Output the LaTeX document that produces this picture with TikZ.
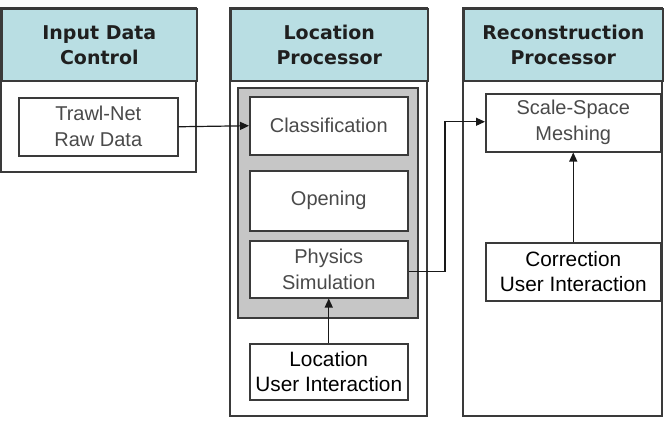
\documentclass[tikz,border=0pt]{standalone}
\usepackage{fontspec}
\setmainfont{Liberation Sans}
\newfontfamily\hdrfont{DejaVu Sans}
\usetikzlibrary{arrows.meta}
\definecolor{hdr}{HTML}{B9DEE3}
\definecolor{gbox}{HTML}{C6C6C6}
\definecolor{edge}{HTML}{3A3A3A}
\definecolor{ltxt}{HTML}{4A4A4A}
\tikzset{
  outerbox/.style={draw=edge,line width=1.6pt,fill=white},
  hdrbox/.style={draw=edge,line width=1.6pt,fill=hdr,align=center,
    font=\hdrfont\fontsize{19}{25}\selectfont\bfseries,text=black!88},
  stepbox/.style={draw=edge,line width=1.5pt,fill=white,align=center,
    font=\fontsize{20}{26}\selectfont,text=ltxt},
  userbox/.style={draw=edge,line width=1.5pt,fill=white,align=center,
    font=\fontsize{20.8}{25}\selectfont,text=black},
  conn/.style={draw=black!90,line width=1.2pt,-{Triangle[length=9pt,width=8pt]}},
}
\begin{document}
\begin{tikzpicture}[x=1pt,y=-1pt]
\useasboundingbox (0,0) rectangle (664,424);
% column 1
\draw[outerbox] (1,8) rectangle (196,172);
\node[hdrbox,minimum width=195pt,minimum height=72pt,anchor=north west,inner sep=0pt] (h1) at (1,8) {Input Data\\Control};
\node[stepbox,minimum width=159pt,minimum height=58pt,anchor=north west,inner sep=0pt] (trawl) at (18,97) {Trawl-Net\\Raw Data};
% column 2
\draw[outerbox] (230,8) rectangle (427,416);
\node[hdrbox,minimum width=197pt,minimum height=72pt,anchor=north west,inner sep=0pt] (h2) at (230,8) {Location\\Processor};
\draw[draw=edge,line width=1.6pt,fill=gbox] (238,88) rectangle (418,318);
\node[stepbox,minimum width=158pt,minimum height=58pt,anchor=north west,inner sep=0pt] (cls) at (249,96) {Classification};
\node[stepbox,minimum width=158pt,minimum height=60pt,anchor=north west,inner sep=0pt] (open) at (249,170) {Opening};
\node[stepbox,minimum width=158pt,minimum height=57pt,anchor=north west,inner sep=0pt] (phys) at (249,240) {Physics\\Simulation};
\node[userbox,minimum width=158pt,minimum height=56pt,anchor=north west,inner sep=0pt] (locui) at (249,343) {Location\\User Interaction};
% column 3
\draw[outerbox] (463,8) rectangle (662,416);
\node[hdrbox,minimum width=199pt,minimum height=72pt,anchor=north west,inner sep=0pt] (h3) at (463,8) {Reconstruction\\Processor};
\node[stepbox,minimum width=175pt,minimum height=58pt,anchor=north west,inner sep=0pt] (mesh) at (485,93) {Scale-Space\\Meshing};
\node[userbox,minimum width=175pt,minimum height=58pt,anchor=north west,inner sep=0pt] (corui) at (485,242) {Correction\\User Interaction};
% connectors
\draw[conn] (trawl.east) -- (cls.west);
\coordinate (bend) at (445,0);
\draw[conn] ([yshift=-2pt]phys.east) -- ([yshift=-2pt]phys.east -| bend) -- ([yshift=1pt]mesh.west -| bend) -- ([yshift=1pt]mesh.west);
\draw[conn] (locui.north) -- (phys.south);
\draw[conn] (corui.north) -- (mesh.south);
\end{tikzpicture}
\end{document}
